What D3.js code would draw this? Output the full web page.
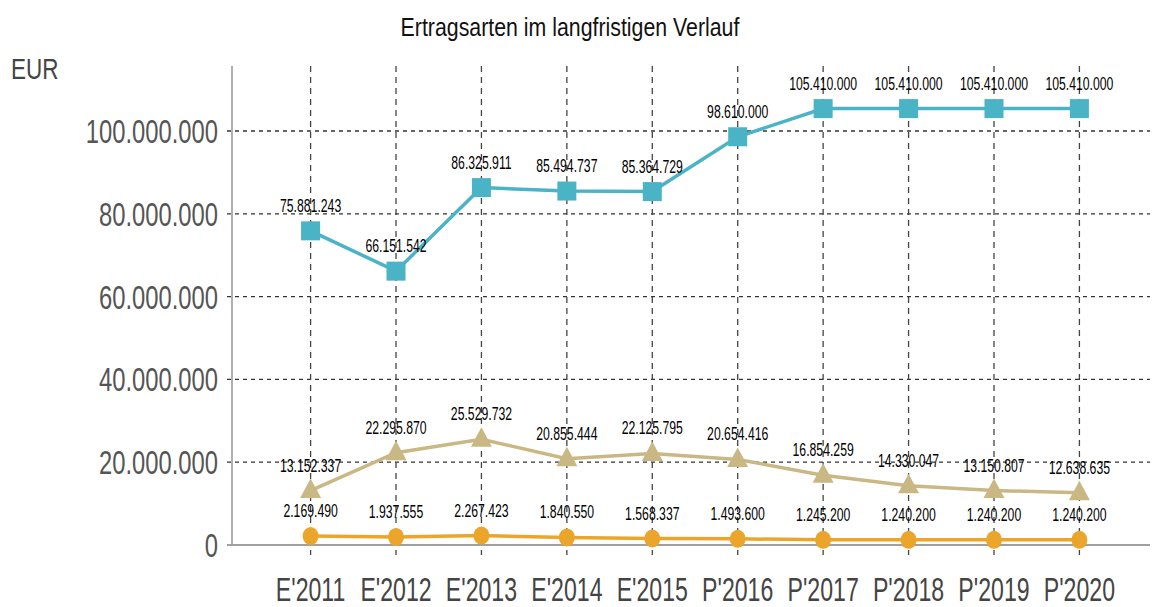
<!DOCTYPE html>
<html>
<head>
<meta charset="utf-8">
<script src="https://cdn.jsdelivr.net/npm/d3@7"></script>
<style>
  body { margin: 0; background: #fff; }
  svg text { font-family: "Liberation Sans", Arial, sans-serif; }
</style>
</head>
<body>
<div id="chart"></div>
<script>
// ......................
// Data
var categories = ["E'2011", "E'2012", "E'2013", "E'2014", "E'2015", "P'2016", "P'2017", "P'2018", "P'2019", "P'2020"];
var seriesTeal = [75881243, 66151542, 86325911, 85494737, 85364729, 98610000, 105410000, 105410000, 105410000, 105410000];
var seriesKhaki = [13152337, 22295870, 25529732, 20855444, 22125795, 20654416, 16854259, 14330047, 13150807, 12638635];
var seriesOrange = [2169490, 1937555, 2267423, 1840550, 1568337, 1493600, 1245200, 1240200, 1240200, 1240200];
var yTicks = [0, 20000000, 40000000, 60000000, 80000000, 100000000];

// ......................
// SVG area
var svgWidth = 1152;
var svgHeight = 607;
var plot = { left: 232, right: 1150, top: 66, bottom: 545 };

var svg = d3.select("#chart")
    .append("svg")
    .attr("width", svgWidth)
    .attr("height", svgHeight);

var de = d3.formatLocale({ decimal: ",", thousands: ".", grouping: [3], currency: ["", " €"] });
var fmt = de.format(",d");

// scales
var xScale = d3.scalePoint()
    .domain(categories)
    .range([plot.left, 1158])
    .padding(0.92);

var yScale = d3.scaleLinear()
    .domain([0, 115700000])
    .range([plot.bottom, plot.top]);

// helper for horizontally squeezed text
function sqText(g, x, y, txt, size, anchor, fill, sx) {
    return g.append("text")
        .attr("transform", `translate(${x},${y}) scale(${sx},1)`)
        .attr("text-anchor", anchor)
        .attr("font-size", size)
        .attr("fill", fill)
        .text(txt);
}

// ......................
// Grid lines
var grid = svg.append("g").attr("class", "grid");

grid.selectAll(".hgrid")
    .data(yTicks.filter(d => d > 0))
    .enter().append("line")
    .attr("x1", plot.left - 5)
    .attr("x2", plot.right)
    .attr("y1", d => yScale(d))
    .attr("y2", d => yScale(d))
    .attr("stroke", "#333")
    .attr("stroke-width", 1.3)
    .attr("stroke-dasharray", "4,4");

grid.selectAll(".vgrid")
    .data(categories)
    .enter().append("line")
    .attr("x1", d => xScale(d))
    .attr("x2", d => xScale(d))
    .attr("y1", plot.top)
    .attr("y2", plot.bottom + 10)
    .attr("stroke", "#444")
    .attr("stroke-width", 1.3)
    .attr("stroke-dasharray", "6,5");

// axis lines
svg.append("line")
    .attr("x1", plot.left).attr("x2", plot.left)
    .attr("y1", plot.top).attr("y2", plot.bottom)
    .attr("stroke", "#b0b0b0").attr("stroke-width", 2);

svg.append("line")
    .attr("x1", plot.left - 5).attr("x2", plot.right)
    .attr("y1", plot.bottom).attr("y2", plot.bottom)
    .attr("stroke", "#a0a0a0").attr("stroke-width", 2);

// ......................
// Axis labels
var yLabels = svg.append("g").attr("class", "yLabels");
yTicks.forEach(t => {
    sqText(yLabels, 218, yScale(t) + 12, fmt(t), 34, "end", "#555", 0.7);
});

var xLabels = svg.append("g").attr("class", "xLabels");
categories.forEach(c => {
    sqText(xLabels, xScale(c), 601, c, 34, "middle", "#444", 0.68);
});

sqText(svg, 11, 79, "EUR", 30, "start", "#444", 0.75);
sqText(svg, 570, 36, "Ertragsarten im langfristigen Verlauf", 26, "middle", "#111", 0.82);

// ......................
// Series
var allSeries = [
    { name: "teal", values: seriesTeal, color: "#4bb3c6", marker: "square" },
    { name: "khaki", values: seriesKhaki, color: "#c9b883", marker: "triangle" },
    { name: "orange", values: seriesOrange, color: "#eca52b", marker: "circle" }
];

var line = d3.line()
    .x((d, i) => xScale(categories[i]))
    .y(d => yScale(d));

allSeries.forEach(s => {
    var g = svg.append("g").attr("class", "series " + s.name);

    g.append("path")
        .datum(s.values)
        .attr("fill", "none")
        .attr("stroke", s.color)
        .attr("stroke-width", 3.5)
        .attr("d", line);

    s.values.forEach((v, i) => {
        var cx = xScale(categories[i]);
        var cy = yScale(v);
        if (s.marker === "square") {
            g.append("rect")
                .attr("x", cx - 9.5).attr("y", cy - 9.5)
                .attr("width", 19).attr("height", 19)
                .attr("fill", s.color);
        } else if (s.marker === "triangle") {
            g.append("path")
                .attr("d", `M${cx},${cy - 12} L${cx + 10.5},${cy + 7.5} L${cx - 10.5},${cy + 7.5} Z`)
                .attr("fill", s.color);
        } else {
            g.append("ellipse")
                .attr("cx", cx).attr("cy", cy)
                .attr("rx", 8).attr("ry", 9)
                .attr("fill", s.color);
        }
    });

    // data labels
    var lab = svg.append("g").attr("class", "labels " + s.name);
    s.values.forEach((v, i) => {
        sqText(lab, xScale(categories[i]), yScale(v) - 19, fmt(v), 18, "middle", "#000", 0.68);
    });
});
</script>
</body>
</html>
